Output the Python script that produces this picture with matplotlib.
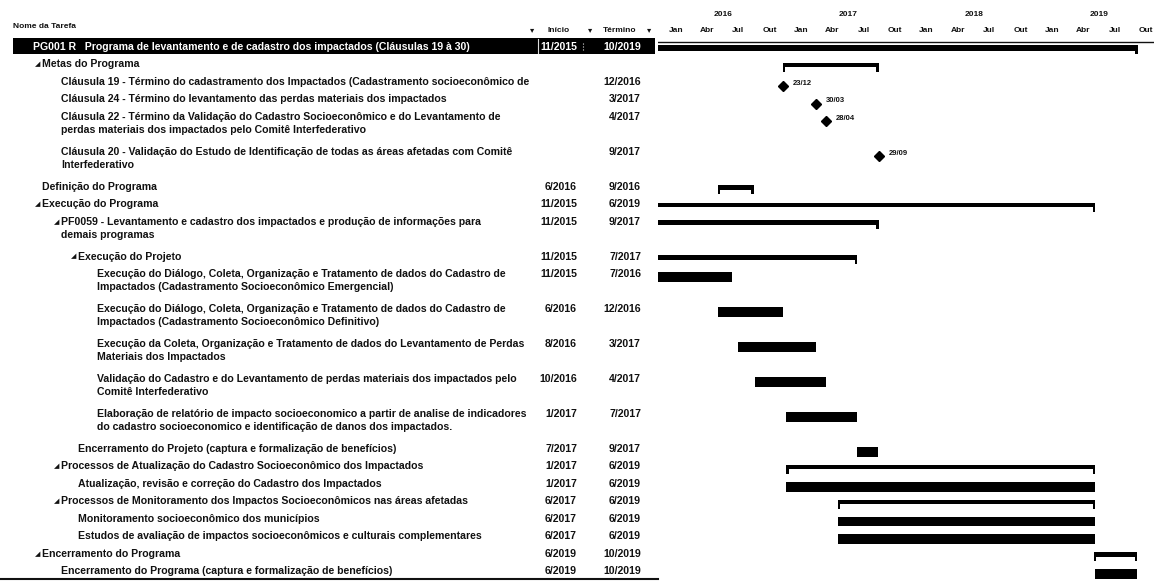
import numpy as np
import pandas as pd
import matplotlib
matplotlib.use('Agg')
import matplotlib.pyplot as plt
import matplotlib.dates as mdates
from matplotlib.patches import Rectangle
from matplotlib.transforms import blended_transform_factory, ScaledTranslation

plt.rcParams['font.family'] = ['Liberation Sans', 'DejaVu Sans']

# ---- dados do cronograma ----
names = [
    "PG001 R   Programa de levantamento e de cadastro dos impactados (Cláusulas 19 à 30)",
    "Metas do Programa",
    "Cláusula 19 - Término do cadastramento dos Impactados (Cadastramento socioeconômico de",
    "Cláusula 24 - Término do levantamento das perdas materiais dos impactados",
    "Cláusula 22 - Término da Validação do Cadastro Socioeconômico e do Levantamento de\nperdas materiais dos impactados pelo Comitê Interfederativo",
    "Cláusula 20 - Validação do Estudo de Identificação de todas as áreas afetadas com Comitê\nInterfederativo",
    "Definição do Programa",
    "Execução do Programa",
    "PF0059 - Levantamento e cadastro dos impactados e produção de informações para\ndemais programas",
    "Execução do Projeto",
    "Execução do Diálogo, Coleta, Organização e Tratamento de dados do Cadastro de\nImpactados (Cadastramento Socioeconômico Emergencial)",
    "Execução do Diálogo, Coleta, Organização e Tratamento de dados do Cadastro de\nImpactados (Cadastramento Socioeconômico Definitivo)",
    "Execução da Coleta, Organização e Tratamento de dados do Levantamento de Perdas\nMateriais dos Impactados",
    "Validação do Cadastro e do Levantamento de perdas materiais dos impactados pelo\nComitê Interfederativo",
    "Elaboração de relatório de impacto socioeconomico a partir de analise de indicadores\ndo cadastro socioeconomico e identificação de danos dos impactados.",
    "Encerramento do Projeto (captura e formalização de benefícios)",
    "Processos de Atualização do Cadastro Socioeconômico dos Impactados",
    "Atualização, revisão e correção do Cadastro dos Impactados",
    "Processos de Monitoramento dos Impactos Socioeconômicos nas áreas afetadas",
    "Monitoramento socioeconômico dos municípios",
    "Estudos de avaliação de impactos socioeconômicos e culturais complementares",
    "Encerramento do Programa",
    "Encerramento do Programa (captura e formalização de benefícios)",
]
levels = [0, 1, 2, 2, 2, 2, 1, 1, 2, 3, 4, 4, 4, 4, 4, 3, 2, 3, 2, 3, 3, 1, 2]
kinds = ['project', 'summary', 'milestone', 'milestone', 'milestone', 'milestone',
         'summary', 'summary', 'summary', 'summary', 'task', 'task', 'task', 'task',
         'task', 'task', 'summary', 'task', 'summary', 'task', 'task', 'summary', 'task']
has_children = [True, True, False, False, False, False, False, True, True, True,
                False, False, False, False, False, False, True, False, True,
                False, False, True, False]
inicio = ['11/2015', '', '', '', '', '', '6/2016', '11/2015', '11/2015', '11/2015',
          '11/2015', '6/2016', '8/2016', '10/2016', '1/2017', '7/2017', '1/2017',
          '1/2017', '6/2017', '6/2017', '6/2017', '6/2019', '6/2019']
termino = ['10/2019', '', '12/2016', '3/2017', '4/2017', '9/2017', '9/2016', '6/2019',
           '9/2017', '7/2017', '7/2016', '12/2016', '3/2017', '4/2017', '7/2017',
           '9/2017', '6/2019', '6/2019', '6/2019', '6/2019', '6/2019', '10/2019',
           '10/2019']
bar_start = ['2015-11-02', '2016-12-23', '2016-12-23', '2017-03-30', '2017-04-28',
             '2017-09-29', '2016-06-17', '2015-11-02', '2015-11-02', '2015-11-02',
             '2015-11-02', '2016-06-17', '2016-08-15', '2016-10-03', '2017-01-02',
             '2017-07-27', '2017-01-02', '2017-01-02', '2017-06-01', '2017-06-01',
             '2017-06-01', '2019-06-17', '2019-06-20']
bar_end = ['2019-10-22', '2017-09-29', '2016-12-23', '2017-03-30', '2017-04-28',
           '2017-09-29', '2016-09-30', '2019-06-21', '2017-09-29', '2017-07-28',
           '2016-07-29', '2016-12-23', '2017-03-30', '2017-04-28', '2017-07-27',
           '2017-09-27', '2019-06-21', '2019-06-20', '2019-06-21', '2019-06-20',
           '2019-06-20', '2019-10-21', '2019-10-21']
meses = ['Jan', 'Abr', 'Jul', 'Out']
anos = [2016, 2017, 2018, 2019]

# ---- layout ----
W, H = 1154, 584
n_lines = [name.count('\n') + 1 for name in names]
tops = np.concatenate([[0], np.cumsum(n_lines)[:-1]])
total = int(sum(n_lines))
y_top_px, y_bot_px = 37.3, 579.0
split_px = 658
text_x = {0: 33, 1: 42, 2: 61, 3: 78, 4: 97}
fs = 7.6
ink = '#111111'

fig = plt.figure(figsize=(W / 100, H / 100), dpi=100)
fig.patch.set_facecolor('white')
axb = 1 - y_bot_px / H
axh = (y_bot_px - y_top_px) / H

# tabela
tab = fig.add_axes([0, axb, split_px / W, axh])
tab.set_xlim(0, split_px)
tab.set_ylim(total, 0)
tab.axis('off')

# gráfico
ax = fig.add_axes([split_px / W, axb, 1 - split_px / W, axh])
ax.set_ylim(total, 0)
ax.set_xlim(mdates.datestr2num('2015-12-26'), mdates.datestr2num('2019-12-09'))
ax.axis('off')

starts = mdates.date2num(pd.to_datetime(bar_start))
ends = mdates.date2num(pd.to_datetime(bar_end))
hook = 7.0  # dias
up = ScaledTranslation(0, 5.0 / 100, fig.dpi_scale_trans)

for i, name in enumerate(names):
    top = tops[i]
    lv = levels[i]
    tx = text_x[lv]
    color = ink
    if kinds[i] == 'project':
        tab.add_patch(Rectangle((13, top + 0.04), 642, 0.92, color='black', lw=0))
        tab.plot([538, 538], [top + 0.1, top + 0.9], color='#dddddd', lw=0.8)
        tab.plot([583, 583], [top + 0.3, top + 0.7], color='#dddddd', lw=0.8, ls=':')
        color = 'white'
    elif has_children[i]:
        tab.text(tx - 7, top + 0.55, '◢', fontsize=5, color=ink, va='center',
                 ha='left', family=['DejaVu Sans'])
    tab.text(tx, top + 0.55, name, fontsize=fs, fontweight='bold', color=color,
             va='top', ha='left', linespacing=1.4, transform=tab.transData + up)
    tab.text(577, top + 0.55, inicio[i], fontsize=fs, fontweight='bold', color=color,
             va='center', ha='right')
    tab.text(641, top + 0.55, termino[i], fontsize=fs, fontweight='bold', color=color,
             va='center', ha='right')

    s, e = starts[i], ends[i]
    if kinds[i] == 'task':
        ax.barh(top + 0.72, e - s, left=s, height=0.55, color='black', lw=0)
    elif kinds[i] in ('summary', 'project'):
        th = 0.32 if kinds[i] == 'project' else 0.25
        ax.barh(top + 0.6, e - s, left=s, height=th, color='black', lw=0)
        for hx in (s, e - hook):
            ax.add_patch(Rectangle((hx, top + 0.5), hook, 0.48, color='black', lw=0))
    else:
        ax.plot(s, top + 0.8, marker='D', ms=5, color='black')
        ax.annotate(pd.Timestamp(bar_start[i]).strftime('%d/%m'), (s, top + 0.8),
                    xytext=(7, 2), textcoords='offset points', fontsize=5.5,
                    fontweight='bold', color=ink, va='center')

# linhas de moldura
tab.plot([0, split_px], [total, total], color=ink, lw=1.5, clip_on=False)
ax.axhline(0.27, color=ink, lw=1.0)

# cabeçalho
fig.text(13 / W, 1 - 26 / H, 'Nome da Tarefa', fontsize=6, fontweight='bold',
         color=ink, va='center')
for xp, lab in [(530, '▾'), (547, 'Início'), (588, '▾'), (603, 'Término'), (647, '▾')]:
    fig.text(xp / W, 1 - 31 / H, lab, fontsize=6, fontweight='bold', color=ink,
             va='center')

trans = blended_transform_factory(ax.transData, fig.transFigure)
for ano in anos:
    for q, mes in enumerate(meses):
        a = pd.Timestamp(year=ano, month=3 * q + 1, day=1)
        b = a + pd.DateOffset(months=3)
        mid = (mdates.date2num(a) + mdates.date2num(b)) / 2
        ax.text(mid, 1 - 31 / H, mes, transform=trans, fontsize=6, fontweight='bold',
                color=ink, ha='center', va='center', clip_on=False)
    ymid = (mdates.date2num(pd.Timestamp(year=ano, month=1, day=1)) +
            mdates.date2num(pd.Timestamp(year=ano + 1, month=1, day=1))) / 2
    ax.text(ymid, 1 - 14 / H, str(ano), transform=trans, fontsize=6, fontweight='bold',
            color=ink, ha='center', va='center', clip_on=False)

fig.savefig('out.png', dpi=100, facecolor='white')
